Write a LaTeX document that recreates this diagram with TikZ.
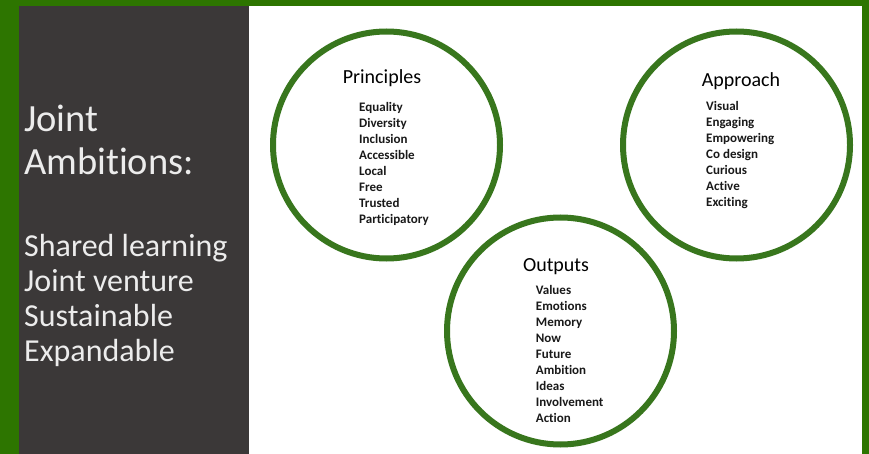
\documentclass[tikz,border=0pt]{standalone}
\usepackage{fontspec}
\setmainfont[Ligatures=NoCommon]{Carlito}
\usepackage{tikz}
\usetikzlibrary{positioning}
\definecolor{framegreen}{RGB}{45,117,0}
\definecolor{panelgray}{RGB}{59,56,56}
\definecolor{ringgreen}{RGB}{56,118,29}
\definecolor{paletext}{RGB}{236,236,236}
\tikzset{
x=1pt, y=-1pt, % one unit is one pixel of the slide, y going down
every node/.style={inner sep=0pt},
ring/.style={circle, draw=ringgreen, line width=6pt, minimum size=227pt}, % the three green circles
heading/.style={anchor=base, text=black, font=\fontsize{20}{24}\selectfont}, % circle titles
item/.style={anchor=base west, text=black!90, font=\bfseries\fontsize{13}{16}\selectfont}, % words in the circles
bigline/.style={anchor=base west, text=paletext, font=\fontsize{38.5}{43}\selectfont},
smallline/.style={anchor=base west, text=paletext, font=\fontsize{32}{35}\selectfont},
}

\begin{document}
\begin{tikzpicture}
  % slide frame and panels
  \fill[framegreen] (0,0) rectangle (869,454);
  \fill[panelgray] (19,6) rectangle (249,454);
  \fill[white] (249,6) rectangle (862,454);
  \useasboundingbox (0,0) rectangle (869,454);

  % left panel
  \node[bigline] (jt) at (24,132) {Joint};
  \node[bigline] (am) at (24,175) {Ambitions:};
  \foreach \w [count=\i] in {Shared learning,Joint venture,Sustainable,Expandable}
    \node[smallline] (l\i) at (24,{256.7+35*(\i-1)}) {\w};

  % circles
  \node[ring] (pr) at (386.5,145) {};
  \node[ring] (ap) at (736.5,145) {};
  \node[ring] (ou) at (560.5,331) {};

  \node[heading] (prt) at (382,83.3) {Principles};
  \node[heading] (apt) at (741,86.7) {Approach};
  \node[heading] (out) at (556,271.7) {Outputs};

  \foreach \w [count=\i] in {Equality,Diversity,Inclusion,Accessible,Local,Free,Trusted,Participatory}
    \node[item] (pr\i) at (359,{111.7+16*(\i-1)}) {\w};
  \foreach \w [count=\i] in {Visual,Engaging,Empowering,Co design,Curious,Active,Exciting}
    \node[item] (ap\i) at (706,{110.7+16*(\i-1)}) {\w};
  \foreach \w [count=\i] in {Values,Emotions,Memory,Now,Future,Ambition,Ideas,Involvement,Action}
    \node[item] (ou\i) at (535.7,{294+16.1*(\i-1)}) {\w};
\end{tikzpicture}
\end{document}
